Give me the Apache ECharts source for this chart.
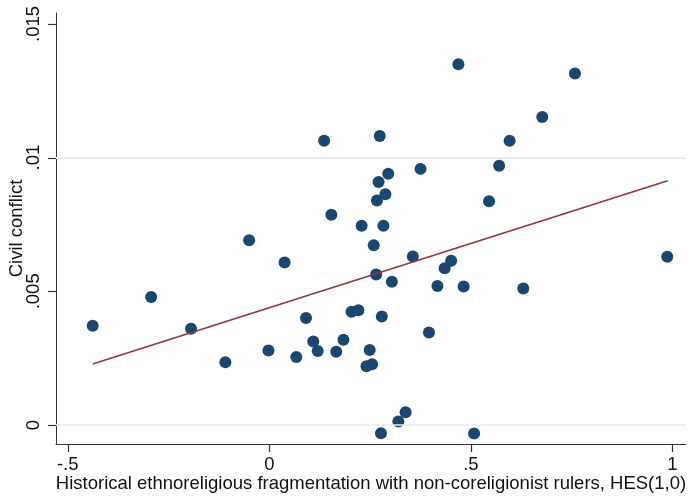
<!DOCTYPE html>
<html>
<head>
<meta charset="utf-8">
<script src="https://cdn.jsdelivr.net/npm/echarts@6/dist/echarts.min.js"></script>
<style>
  html, body { margin: 0; padding: 0; background: #fff; }
  #chart { width: 690px; height: 496px; }
</style>
</head>
<body>
<div id="chart"></div>
<script>
// HES(1,0) per country
const hes = [
  -0.438, -0.293, -0.194, -0.109, -0.050, -0.002, 0.038, 0.067, 0.091, 0.109,
  0.120, 0.166, 0.184, 0.204, 0.221, 0.241, 0.255, 0.249, 0.259, 0.265,
  0.279, 0.277, 0.304, 0.320, 0.338, 0.356, 0.396, 0.417, 0.435, 0.451,
  0.482, 0.508, 0.630, 0.987, 0.136, 0.274, 0.469, 0.295, 0.271, 0.288,
  0.267, 0.154, 0.229, 0.283, 0.375, 0.758, 0.677, 0.596, 0.570, 0.545
]
// civil conflict per country
const conflict = [
  0.00371, 0.00479, 0.00360, 0.00235, 0.00691, 0.00279, 0.00608, 0.00254, 0.00400, 0.00312,
  0.00277, 0.00274, 0.00319, 0.00424, 0.00429, 0.00220, 0.00227, 0.00281, 0.00672, 0.00563,
  0.00406, -0.00031, 0.00536, 0.00013, 0.00048, 0.00630, 0.00346, 0.00520, 0.00586, 0.00614,
  0.00518, -0.00032, 0.00511, 0.00629, 0.01063, 0.01081, 0.01349, 0.00940, 0.00909, 0.00863,
  0.00840, 0.00786, 0.00745, 0.00745, 0.00958, 0.01315, 0.01152, 0.01063, 0.00970, 0.00837
]
// fitted line end points
const fitX = [-0.438, 0.988]
const fitY = [0.00228, 0.00914]

const xTicks = [-0.5, 0, 0.5, 1]
const xTickLabels = ['-.5', '0', '.5', '1']
const yTicks = [0, 0.005, 0.01, 0.015]
const yTickLabels = ['0', '.005', '.01', '.015']

const xMin = -0.529, xMax = 1.0335
const yMin = -0.00071, yMax = 0.01541

const font = 'Liberation Sans, Arial, sans-serif'
const gridLeft = 56
const gridBottomY = 496 - 52
const tickLen = 8

function pickLabel(ticks, labels) {
  return (v) => {
    let best = 0
    ticks.forEach((t, i) => {
      if (Math.abs(t - v) < Math.abs(ticks[best] - v)) best = i
    })
    return labels[best]
  }
}

const chart = echarts.init(document.getElementById('chart'), null, { renderer: 'canvas' })

chart.setOption({
  animation: false,
  backgroundColor: '#fff',
  grid: { left: gridLeft, right: 4, top: 13, bottom: 52, containLabel: false, outerBoundsMode: 'none' },
  xAxis: {
    type: 'value',
    min: xMin,
    max: xMax,
    name: 'Historical ethnoreligious fragmentation with non-coreligionist rulers, HES(1,0)',
    nameLocation: 'middle',
    nameMoveOverlap: false,
    nameGap: 30,
    nameTextStyle: { fontFamily: font, fontSize: 18.5, color: '#111' },
    axisLine: { show: true, onZero: false, lineStyle: { color: '#333', width: 1 } },
    axisTick: { show: false },
    axisLabel: {
      customValues: xTicks,
      formatter: pickLabel(xTicks, xTickLabels),
      fontFamily: font, fontSize: 18.5, color: '#111', margin: 11
    },
    splitLine: { show: false }
  },
  yAxis: {
    type: 'value',
    min: yMin,
    max: yMax,
    name: 'Civil conflict',
    nameLocation: 'middle',
    nameMoveOverlap: false,
    nameRotate: 90,
    nameGap: 30,
    nameTextStyle: { fontFamily: font, fontSize: 18.5, color: '#111' },
    axisLine: { show: true, onZero: false, lineStyle: { color: '#333', width: 1 } },
    axisTick: { show: false },
    axisLabel: {
      customValues: yTicks,
      rotate: 90,
      formatter: pickLabel(yTicks, yTickLabels),
      fontFamily: font, fontSize: 18.5, color: '#111', margin: 13
    },
    splitLine: { show: false }
  },
  series: [
    {
      type: 'scatter',
      data: hes.map((x, i) => [x, conflict[i]]),
      symbolSize: 12,
      itemStyle: { color: '#1a476f', opacity: 1 },
      silent: true,
      markLine: {
        silent: true,
        symbol: 'none',
        label: { show: false },
        lineStyle: { color: '#e6eef1', width: 1.5, type: 'solid' },
        data: yTicks.map(v => ({ yAxis: v }))
      },
      z: 3
    },
    {
      type: 'line',
      data: fitX.map((x, i) => [x, fitY[i]]),
      showSymbol: false,
      lineStyle: { color: '#90353b', width: 1.6 },
      silent: true,
      z: 4
    }
  ]
})

// outward tick marks, placed through the axes' own scales
const tickEls = []
xTicks.forEach(v => {
  const px = Math.round(chart.convertToPixel({ xAxisIndex: 0 }, v)) + 0.5
  tickEls.push({
    type: 'rect', silent: true, z: 100, zlevel: 1,
    shape: { x: px - 0.6, y: gridBottomY, width: 1.2, height: tickLen },
    style: { fill: '#333' }
  })
})
yTicks.forEach(v => {
  const py = Math.round(chart.convertToPixel({ yAxisIndex: 0 }, v)) + 0.5
  tickEls.push({
    type: 'rect', silent: true, z: 100, zlevel: 1,
    shape: { x: gridLeft - tickLen, y: py - 0.6, width: tickLen, height: 1.2 },
    style: { fill: '#333' }
  })
})
chart.setOption({ graphic: { elements: tickEls } })
</script>
</body>
</html>
